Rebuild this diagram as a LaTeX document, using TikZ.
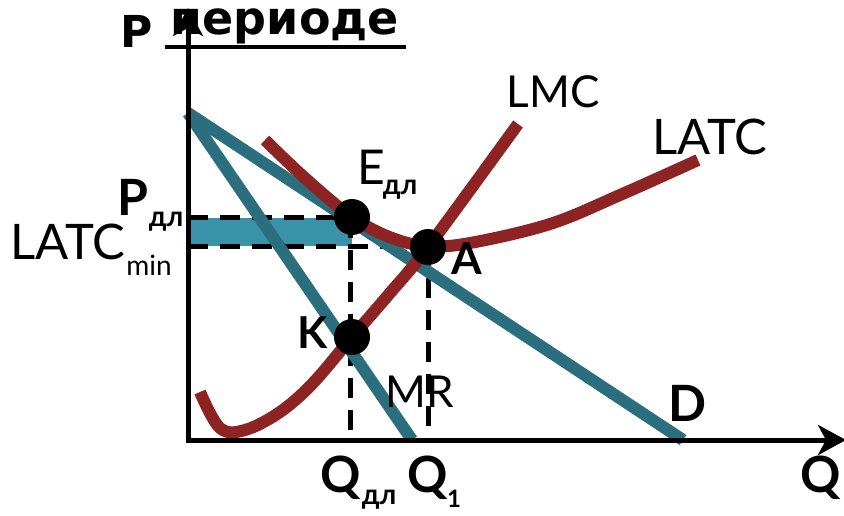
\documentclass[tikz,border=0pt]{standalone}
\usepackage{fontspec}
\setmainfont{Lato}
\newfontfamily\titlefont{DejaVu Sans}
\usetikzlibrary{arrows.meta}
\definecolor{cred}{RGB}{142,35,35}
\definecolor{cteal}{RGB}{43,110,126}
\definecolor{cfill}{RGB}{58,146,168}
\tikzset{
  axis/.style={line width=5pt,-{Stealth[length=28pt,width=30pt,inset=8pt]}},
  curve/.style={line width=12pt,cred},
  demand/.style={line width=12pt,cteal},
  guide/.style={line width=5pt,dash pattern=on 20pt off 12pt},
  dot/.style={circle,fill=black,inner sep=0pt,minimum size=36pt},
  lbl/.style={inner sep=0pt,font=\fontsize{44}{48}\selectfont},
  blbl/.style={inner sep=0pt,font=\fontsize{50}{54}\selectfont\bfseries},
  sub/.style={inner sep=0pt,font=\fontsize{28}{30}\selectfont},
  bsub/.style={inner sep=0pt,font=\fontsize{28}{30}\selectfont\bfseries}
}
\begin{document}
\begin{tikzpicture}[x=1pt,y=-1pt]
\useasboundingbox (0,0) rectangle (844,516);
% fill band
\fill[cfill] (188,218) rectangle (352,246);
% coordinates
\coordinate (O) at (188,440);
\coordinate (Ytop) at (188,8);
\coordinate (Xend) at (846,440);
\coordinate (Dtop) at (188,113);
\coordinate (Dend) at (683,440);
\coordinate (MRend) at (412,440);
\coordinate (Pdl) at (188,218);
\coordinate (Pmin) at (188,246);
\coordinate (Qdl) at (350,440);
\coordinate (Q1) at (428,440);
% guides
\draw[guide] (Pdl) -- (352,218);
\draw[guide] (Pmin) -- (428,246);
\draw[guide] (350,218) -- (Qdl);
\draw[guide] (428,246) -- (Q1);
% demand and MR
\draw[demand] (Dtop) -- (Dend);
\draw[demand] (Dtop) -- (MRend);
% LMC
\draw[curve] plot[smooth,tension=0.6] coordinates {(200,392) (220,428) (245,430) (280,412) (313,383) (352,337) (390,293) (428,247) (518,124)};
% LATC
\draw[curve] plot[smooth,tension=0.6] coordinates {(265,140) (305,178) (352,217) (392,238) (428,246) (470,243) (550,224) (620,195) (698,160)};
% axes
\draw[axis] (O) -- (Ytop);
\draw[axis] (186,440) -- (Xend);
% dots
\node[dot] (E) at (352,217) {};
\node[dot] (A) at (428,247) {};
\node[dot] (K) at (352,337) {};
% labels
\node[lbl] (lmc) at (553,92) {LMC};
\node[lbl,font=\fontsize{49}{52}\selectfont] (latc) at (710,137) {LATC};
\node[lbl,font=\fontsize{48}{52}\selectfont] (El) at (371,167) {E};
\node[bsub] (Es) at (400,190) {дл};
\node[blbl,font=\fontsize{44}{48}\selectfont\bfseries] (Al) at (467,259) {A};
\node[blbl,font=\fontsize{44}{48}\selectfont\bfseries] (Kl) at (313,333) {K};
\node[lbl] (mr) at (420,392) {MR};
\node[blbl] (Dl) at (688,403) {D};
\node[blbl] (Ql) at (821,478) {Q};
\node[blbl] (Qd) at (341,478) {Q};
\node[bsub] (Qds) at (379,500) {дл};
\node[blbl] (Qo) at (428,478) {Q};
\node[bsub,font=\fontsize{24}{26}\selectfont\bfseries] (Qos) at (454,499) {1};
\node[blbl] (Pl) at (133,197) {P};
\node[bsub] (Ps) at (166,222) {дл};
\node[lbl,font=\fontsize{49}{52}\selectfont] (lm) at (68,242) {LATC};
\node[sub] (lms) at (149,265) {min};
% title
\node[inner sep=0pt,font=\titlefont\bfseries\fontsize{44}{48}\selectfont] (tP) at (137,31) {Р};
\node[inner sep=0pt,font=\titlefont\bfseries\fontsize{46}{50}\selectfont] (tt) at (285,26) {периоде};
\draw[line width=4pt] (165,47) -- (406,47);
\end{tikzpicture}
\end{document}
